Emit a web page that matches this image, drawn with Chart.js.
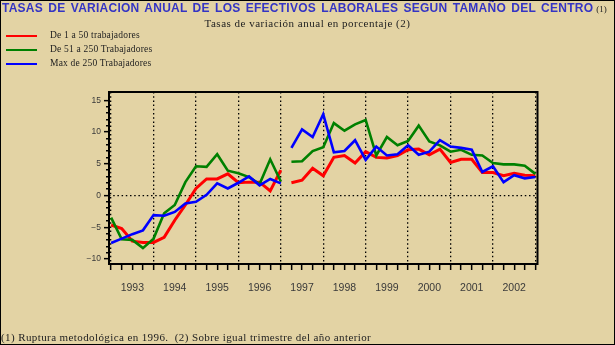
<!DOCTYPE html>
<html lang="es">
<head>
<meta charset="UTF-8">
<title>Tasas de variacion anual de los efectivos laborales</title>
<script src="https://cdn.jsdelivr.net/npm/chart.js@4.4.0/dist/chart.umd.min.js"></script>
<style>
    html, body { margin: 0; padding: 0; background: #e3d3a4; }
    #wrap { position: relative; width: 615px; height: 345px; background: #e3d3a4; overflow: hidden; }
    #wrap canvas { position: absolute; left: 0; top: 0; }
    .edge { position: absolute; left: 0; top: 0; width: 613px; height: 343px; border: 1px solid #000; pointer-events: none; }
    #title { position: absolute; left: 2px; top: 1px; white-space: nowrap;
             font: bold 12px "Liberation Sans", Arial, sans-serif; color: #3434c4;
             letter-spacing: 0.25px; word-spacing: 1.7px; }
    #title span { font: 9px "Liberation Serif", serif; color: #222; margin-left: 3px; letter-spacing: 0; }
    #sub { position: absolute; left: 0; width: 615px; top: 17px; text-align: center;
           font: 11px "Liberation Serif", serif; color: #222; letter-spacing: 0.5px; }
    #legend { position: absolute; left: 6px; top: 29px; font: 9.5px "Liberation Serif", serif; color: #222; }
    #legend div { height: 14px; line-height: 12px; white-space: nowrap; letter-spacing: 0.2px; }
    #legend i { display: inline-block; width: 31px; height: 2.5px; vertical-align: middle; margin-right: 13px; }
    #foot { position: absolute; left: 1px; top: 331px; white-space: nowrap;
            font: 11px "Liberation Serif", serif; color: #222; letter-spacing: 0.4px; }
</style>
</head>
<body>
<div id="wrap">
    <canvas id="chart" width="615" height="345"></canvas>
    <div id="title">TASAS DE VARIACION ANUAL DE LOS EFECTIVOS LABORALES SEGUN TAMAÑO DEL CENTRO<span>(1)</span></div>
    <div id="sub">Tasas de variación anual en porcentaje (2)</div>
    <div id="legend"></div>
    <div id="foot">(1) Ruptura metodológica en 1996.&nbsp; (2) Sobre igual trimestre del año anterior</div>
    <div class="edge"></div>
</div>

<script>
    // trimestres 0..40, ruptura de la serie despues del punto 16
    var years = [1993, 1994, 1995, 1996, 1997, 1998, 1999, 2000, 2001, 2002];
    var breakAfter = 16;

    var small = [-4.65, -5.2, -7.2, -7.4, -7.4, -6.6, -3.9, -1.5, 1.1, 2.6, 2.6, 3.4, 2.0, 2.1, 2.1, 0.7, 4.0,
                 2.0, 2.4, 4.3, 3.1, 6.0, 6.3, 5.1, 6.9, 6.0, 5.9, 6.3, 7.2, 7.3, 6.4, 7.3, 5.2, 5.7, 5.7, 3.6, 3.6, 3.1, 3.5, 3.2, 3.1];
    var medium = [-3.5, -6.9, -7.0, -8.3, -6.8, -2.8, -1.5, 2.1, 4.6, 4.5, 6.5, 3.9, 3.5, 2.9, 1.8, 5.7, 2.2,
                  5.3, 5.4, 7.0, 7.6, 11.4, 10.2, 11.2, 11.9, 6.3, 9.2, 7.9, 8.6, 11.0, 8.5, 7.9, 6.9, 7.2, 6.4, 6.3, 5.1, 4.9, 4.9, 4.7, 3.4];
    var large = [-7.5, -6.8, -6.1, -5.5, -3.1, -3.2, -2.6, -1.25, -1.0, 0.1, 1.9, 1.1, 2.0, 3.0, 1.6, 2.6, 1.9,
                 7.5, 10.4, 9.2, 12.8, 6.8, 7.0, 8.7, 5.6, 7.7, 6.3, 6.5, 7.9, 6.4, 6.9, 8.7, 7.7, 7.5, 7.2, 3.7, 4.6, 2.1, 3.2, 2.7, 2.9];

    var seriesNames = ['De 1 a 50 trabajadores', 'De 51 a 250 Trabajadores', 'Max de 250 Trabajadores'];
    var seriesColors = ['#ff0000', '#008000', '#0000ff'];
    var seriesWidths = [3, 2.6, 2.6];

    function toPoints(arr) {
        return arr.map(function (v, i) { return { x: i, y: v }; });
    }

    var datasets = [small, medium, large].map(function (arr, k) {
        return {
            label: seriesNames[k],
            data: toPoints(arr),
            order: 3 - k,   // azul encima, rojo debajo
            borderColor: seriesColors[k],
            borderWidth: seriesWidths[k],
            pointRadius: 0,
            tension: 0,
            fill: false,
            segment: {
                borderColor: function (ctx) { return ctx.p0DataIndex === breakAfter ? 'rgba(0,0,0,0)' : undefined; }
            }
        };
    });

    // leyenda en html
    var legend = document.getElementById('legend');
    datasets.forEach(function (d) {
        var row = document.createElement('div');
        row.innerHTML = '<i style="background:' + d.borderColor + '"></i>' + d.label;
        legend.appendChild(row);
    });

    var framePlugin = {
        id: 'frame',
        afterDatasetsDraw: function (chart) {
            var a = chart.chartArea, c = chart.ctx;
            c.save();
            c.strokeStyle = '#000';
            c.lineWidth = 2;
            c.strokeRect(a.left, a.top, a.right - a.left, a.bottom - a.top);
            c.restore();
        }
    };

    var tickFont = { family: '"Liberation Sans", Arial, sans-serif' };

    new Chart(document.getElementById('chart'), {
        type: 'line',
        data: { datasets: datasets },
        plugins: [framePlugin],
        options: {
            responsive: false,
            animation: false,
            devicePixelRatio: 1,
            layout: { padding: { top: 92, right: 77.5, left: 0, bottom: 0 } },
            plugins: { legend: { display: false }, title: { display: false }, tooltip: { enabled: false } },
            scales: {
                x: {
                    type: 'linear',
                    min: -0.2,
                    max: 40.2,
                    afterBuildTicks: function (axis) {
                        var t = [];
                        for (var i = 0; i <= 40; i++) t.push({ value: i });
                        axis.ticks = t;
                    },
                    afterFit: function (scale) { scale.height = 81; },
                    border: { display: false, dash: [1.5, 2.7] },
                    grid: {
                        color: function (ctx) { return ctx.tick && ctx.tick.value % 4 === 0 ? '#000' : 'rgba(0,0,0,0)'; },
                        lineWidth: 1.3,
                        tickColor: '#000',
                        tickWidth: 1.5,
                        tickLength: 6
                    },
                    ticks: {
                        autoSkip: false,
                        maxRotation: 0,
                        padding: 12,
                        color: '#3a3a3a',
                        font: Object.assign({ size: 10.5 }, tickFont),
                        callback: function (v) {
                            return (v - 2) % 4 === 0 ? String(years[(v - 2) / 4]) : '';
                        }
                    }
                },
                y: {
                    min: -10.8,
                    max: 16.3,
                    afterBuildTicks: function (axis) {
                        var t = [];
                        for (var v = -10; v <= 15; v++) t.push({ value: v });
                        axis.ticks = t;
                    },
                    afterFit: function (scale) { scale.width = 109; },
                    border: { display: false, dash: [1.5, 2.7] },
                    grid: {
                        color: function (ctx) { return ctx.tick && ctx.tick.value === 0 ? '#000' : 'rgba(0,0,0,0)'; },
                        lineWidth: 1.3,
                        tickColor: '#000',
                        tickWidth: 1.5,
                        tickLength: 5,
                        tickBorderDash: function (ctx) { return ctx.tick && ctx.tick.value % 5 === 0 ? [] : [0, 2, 3, 100]; }
                    },
                    ticks: {
                        autoSkip: false,
                        padding: 3,
                        color: '#3a3a3a',
                        font: Object.assign({ size: 8.5 }, tickFont),
                        callback: function (v) {
                            if (v % 5 !== 0) return '';
                            return v < 0 ? '\u2212' + Math.abs(v) : String(v);
                        }
                    }
                }
            }
        }
    });
</script>
</body>
</html>
